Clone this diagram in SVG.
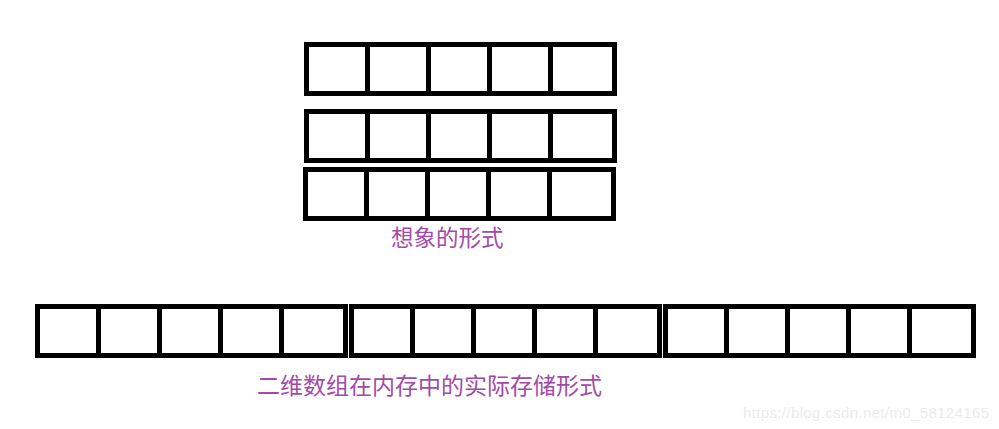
<svg xmlns="http://www.w3.org/2000/svg" width="999" height="429" viewBox="0 0 999 429">
<style>
.box{fill:#fff;stroke:#000;stroke-width:5}
.div{stroke:#000;stroke-width:5}
.lbl{font-family:"Noto Sans CJK SC","Microsoft YaHei",sans-serif;fill:#a24aa8}
.wm{font-family:"Liberation Sans",Arial,sans-serif;fill:#ebebeb;font-size:15px}
</style>
<defs>
<g id="row5">
<rect class="box" x="2.5" y="2.5" width="308" height="49"/>
<line class="div" x1="63.5" y1="2.5" x2="63.5" y2="51.5"/>
<line class="div" x1="124.5" y1="2.5" x2="124.5" y2="51.5"/>
<line class="div" x1="185.5" y1="2.5" x2="185.5" y2="51.5"/>
<line class="div" x1="246.5" y1="2.5" x2="246.5" y2="51.5"/>
</g>
</defs>
<g id="imagined">
<use href="#row5" x="304" y="42"/>
<use href="#row5" x="304" y="109"/>
<use href="#row5" x="303" y="167"/>
</g>
<g id="memory">
<use href="#row5" x="35" y="304"/>
<use href="#row5" x="349" y="304"/>
<use href="#row5" x="663" y="304"/>
</g>
<g id="connectors"/>
<text class="lbl" x="391" y="246" font-size="22.5">想象的形式</text>
<text class="lbl" x="257" y="394" font-size="23">二维数组在内存中的实际存储形式</text>
<text class="wm" x="743" y="418" textLength="246">https://blog.csdn.net/m0_58124165</text>
</svg>
